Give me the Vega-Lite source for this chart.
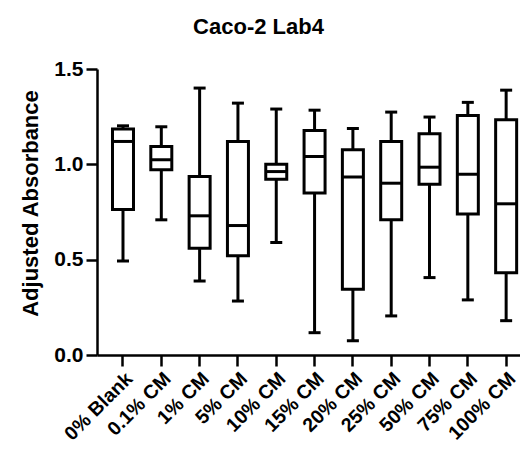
{
  "$schema": "https://vega.github.io/schema/vega-lite/v6.json",
  "autosize": {"type": "none"},
  "width": 423,
  "height": 286,
  "padding": {"left": 97, "top": 69, "right": 0, "bottom": 102},
  "background": "white",
  "title": {
    "text": "Caco-2 Lab4",
    "font": "Liberation Sans",
    "fontSize": 22,
    "fontWeight": "bold",
    "color": "black",
    "anchor": "middle",
    "dx": -50,
    "offset": 19
  },
  "config": {
    "view": {"stroke": null},
    "axis": {
      "domainColor": "black",
      "domainWidth": 2.5,
      "tickColor": "black",
      "tickWidth": 2.5,
      "tickSize": 11,
      "grid": false,
      "labelFont": "Liberation Sans",
      "labelFontWeight": "bold",
      "labelColor": "black",
      "titleFont": "Liberation Sans",
      "titleFontWeight": "bold",
      "titleColor": "black"
    }
  },
  "data": {
    "values": [
      {"group": "0% Blank", "min": 0.493, "q1": 0.763, "median": 1.12, "q3": 1.185, "max": 1.202},
      {"group": "0.1% CM", "min": 0.709, "q1": 0.971, "median": 1.024, "q3": 1.093, "max": 1.197},
      {"group": "1% CM", "min": 0.388, "q1": 0.56, "median": 0.73, "q3": 0.936, "max": 1.4},
      {"group": "5% CM", "min": 0.283, "q1": 0.52, "median": 0.679, "q3": 1.12, "max": 1.321},
      {"group": "10% CM", "min": 0.59, "q1": 0.922, "median": 0.962, "q3": 1.001, "max": 1.29},
      {"group": "15% CM", "min": 0.117, "q1": 0.849, "median": 1.041, "q3": 1.177, "max": 1.284},
      {"group": "20% CM", "min": 0.075, "q1": 0.345, "median": 0.934, "q3": 1.076, "max": 1.188},
      {"group": "25% CM", "min": 0.205, "q1": 0.709, "median": 0.901, "q3": 1.12, "max": 1.274},
      {"group": "50% CM", "min": 0.406, "q1": 0.896, "median": 0.985, "q3": 1.16, "max": 1.248},
      {"group": "75% CM", "min": 0.289, "q1": 0.74, "median": 0.948, "q3": 1.256, "max": 1.325},
      {"group": "100% CM", "min": 0.18, "q1": 0.432, "median": 0.793, "q3": 1.234, "max": 1.389}
    ]
  },
  "encoding": {
    "x": {
      "field": "group",
      "type": "nominal",
      "sort": null,
      "title": null,
      "scale": {"paddingInner": 0.4, "paddingOuter": 0.22, "align": 0.86},
      "axis": {"labelAngle": -45, "labelFontSize": 19.5, "labelPadding": 3}
    }
  },
  "layer": [
    {
      "mark": {"type": "rule", "color": "black", "strokeWidth": 3},
      "encoding": {
        "y": {
          "field": "min",
          "type": "quantitative",
          "scale": {"domain": [0, 1.5], "nice": false},
          "axis": {
            "title": "Adjusted Absorbance",
            "titleFontSize": 22,
            "titleX": -60,
            "titleY": 134,
            "titleBaseline": "alphabetic",
            "values": [0, 0.5, 1, 1.5],
            "format": ".1f",
            "labelFontSize": 21,
            "labelPadding": 3
          }
        },
        "y2": {"field": "max"}
      }
    },
    {
      "mark": {"type": "tick", "color": "black", "opacity": 1, "size": 12, "thickness": 3},
      "encoding": {"y": {"field": "min", "type": "quantitative"}}
    },
    {
      "mark": {"type": "tick", "color": "black", "opacity": 1, "size": 12, "thickness": 3},
      "encoding": {"y": {"field": "max", "type": "quantitative"}}
    },
    {
      "mark": {"type": "bar", "size": 21, "fill": "white", "stroke": "black", "strokeWidth": 3, "opacity": 1},
      "encoding": {
        "y": {"field": "q1", "type": "quantitative"},
        "y2": {"field": "q3"}
      }
    },
    {
      "mark": {"type": "tick", "color": "black", "opacity": 1, "size": 21, "thickness": 3},
      "encoding": {"y": {"field": "median", "type": "quantitative"}}
    }
  ]
}
